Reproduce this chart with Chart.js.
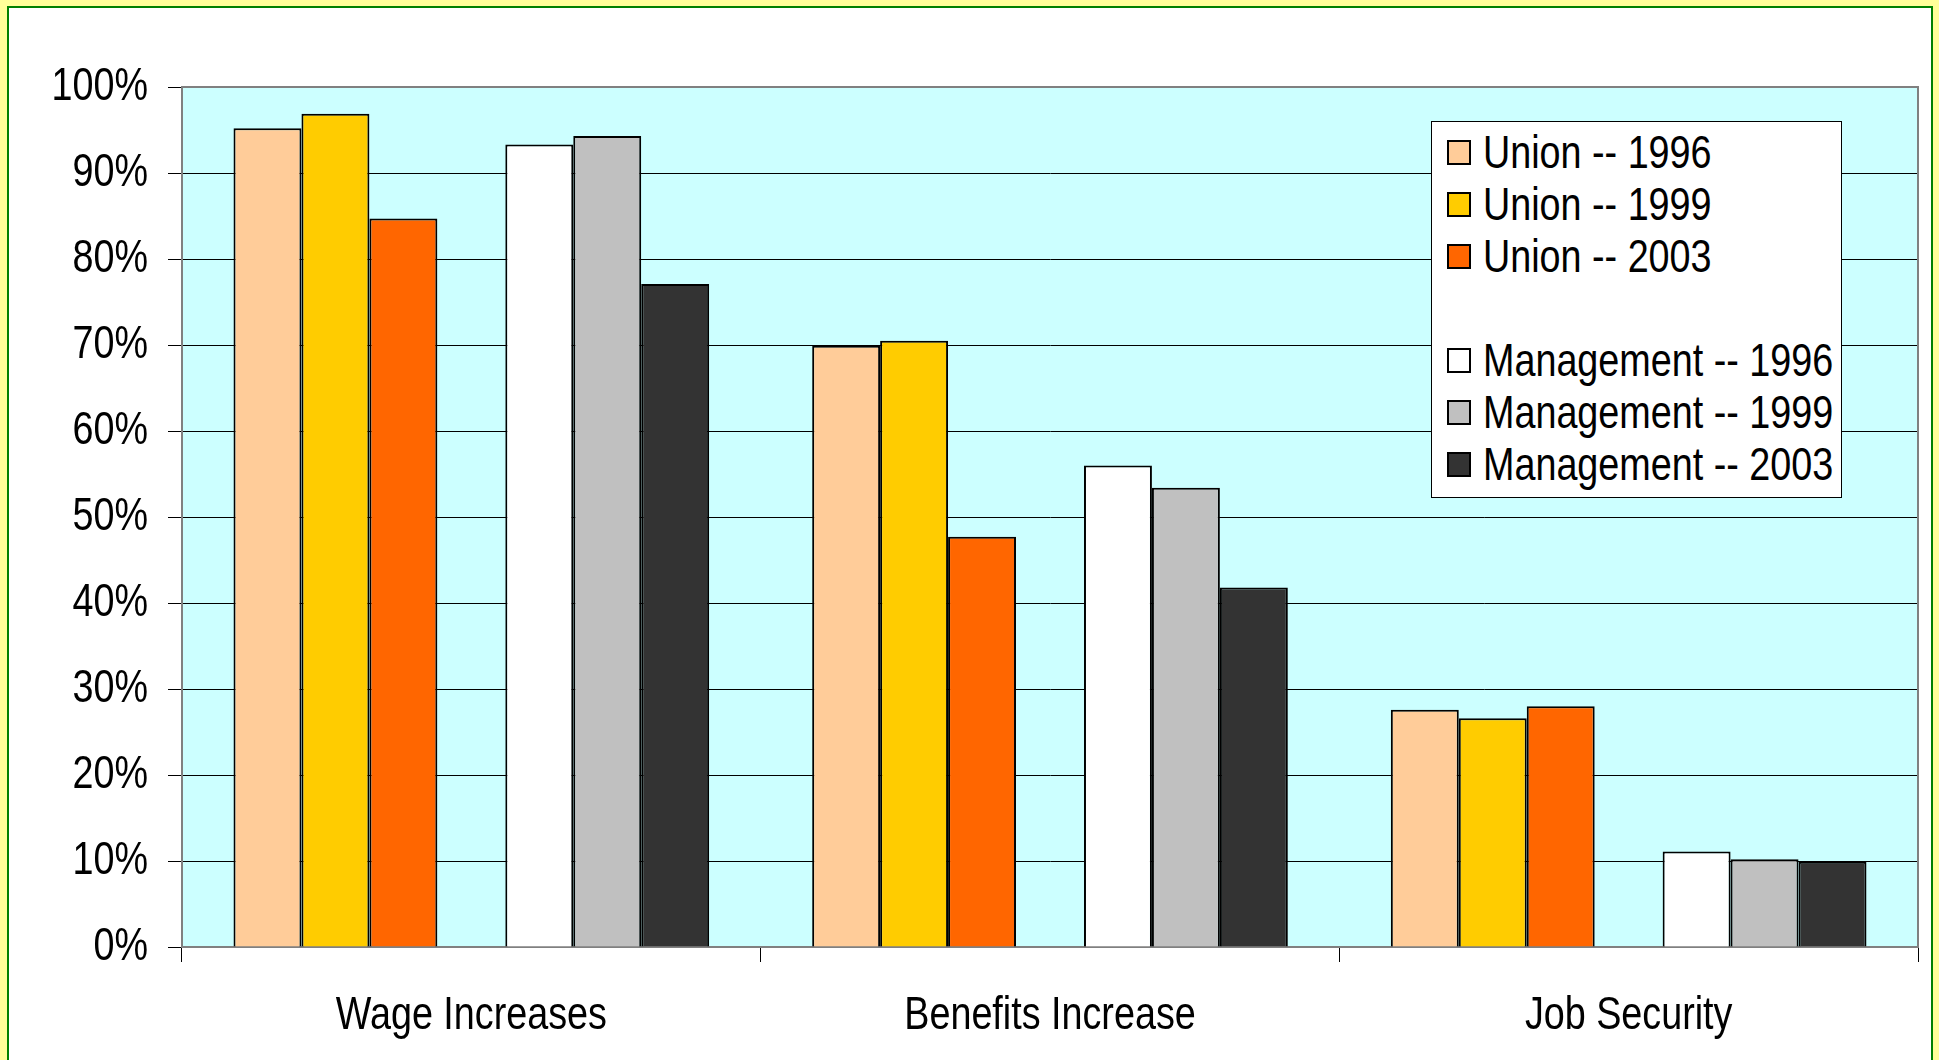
<!DOCTYPE html>
<html>
<head>
<meta charset="utf-8">
<script src="https://cdn.jsdelivr.net/npm/chart.js@4.4.1/dist/chart.umd.min.js"></script>
<style>
  html, body { margin: 0; padding: 0; background: #FFFF99; width: 1939px; height: 1060px; overflow: hidden; }
  #frame { position: absolute; left: 7px; top: 6px; width: 1926px; height: 1100px; box-sizing: border-box;
           border: 2px solid #008000; background: #FFFFFF; }
  #chart { position: absolute; left: 0; top: 0; }
  #legend { position: absolute; left: 1431px; top: 121px; width: 411px; height: 377px; box-sizing: border-box;
            border: 1px solid #000; background: #FFFFFF; padding-top: 4px;
            font-family: 'Liberation Sans', Arial, sans-serif; font-size: 46px; color: #000; }
  .row { height: 52px; line-height: 52px; white-space: nowrap; position: relative; }
  .sw { position: absolute; left: 15px; top: 14px; width: 24px; height: 25px; box-sizing: border-box; border: 2px solid #000; }
  .lbl { position: absolute; left: 51px; top: 0; transform: scaleX(0.82); transform-origin: 0 50%; }
</style>
</head>
<body>
<div id="frame"></div>
<canvas id="chart" width="1939" height="1060"></canvas>
<div id="legend"></div>
<script>
const categories = ['Wage Increases', 'Benefits Increase', 'Job Security'];
const seriesLabels = ['Union -- 1996', 'Union -- 1999', 'Union -- 2003', '', 'Management -- 1996', 'Management -- 1999', 'Management -- 2003'];
const union1996 = [95.2, 69.9, 27.6];
const union1999 = [96.9, 70.5, 26.6];
const union2003 = [84.7, 47.7, 28.0];
const spacer = [null, null, null];
const mgmt1996 = [93.3, 56.0, 11.1];
const mgmt1999 = [94.3, 53.4, 10.2];
const mgmt2003 = [77.1, 41.8, 9.9];
const seriesColors = ['#FFCC99', '#FFCC00', '#FF6600', 'rgba(0,0,0,0)', '#FFFFFF', '#C0C0C0', '#333333'];
const seriesValues = [union1996, union1999, union2003, spacer, mgmt1996, mgmt1999, mgmt2003];

const FONT = "'Liberation Sans', Arial, sans-serif";
const NARROW = 0.82;

const plotFrame = {
  id: 'plotFrame',
  beforeInit(chart) {
    const ctx = chart.ctx;
    const orig = ctx.fillText;
    ctx.fillText = function (t, x, y, mw) {
      const w = this.measureText(t).width * NARROW;
      return orig.call(this, t, x, y, mw !== undefined ? Math.min(mw, w) : w);
    };
  },
  beforeDraw(chart) {
    const a = chart.chartArea, ctx = chart.ctx;
    ctx.save();
    ctx.fillStyle = '#CCFFFF';
    ctx.fillRect(a.left, a.top, a.right - a.left, a.bottom - a.top);
    ctx.restore();
  },
  afterDraw(chart) {
    const a = chart.chartArea, ctx = chart.ctx;
    ctx.save();
    ctx.strokeStyle = '#808080';
    ctx.lineWidth = 2;
    ctx.beginPath();
    ctx.moveTo(a.left, a.top);
    ctx.lineTo(a.right, a.top);
    ctx.lineTo(a.right, a.bottom);
    ctx.stroke();
    ctx.restore();
  }
};

const datasets = seriesLabels.map((lab, i) => ({
  label: lab,
  data: seriesValues[i],
  backgroundColor: seriesColors[i],
  borderColor: lab ? '#000000' : 'rgba(0,0,0,0)',
  borderWidth: lab ? 2 : 0,
  categoryPercentage: 0.822,
  barPercentage: 1.0
}));

const chart = new Chart(document.getElementById('chart'), {
  type: 'bar',
  data: { labels: categories, datasets },
  plugins: [plotFrame],
  options: {
    responsive: false,
    animation: false,
    devicePixelRatio: 1,
    layout: { padding: { top: 87, right: 21, left: 0, bottom: 0 } },
    plugins: { legend: { display: false }, tooltip: { enabled: false } },
    scales: {
      x: {
        afterFit: (s) => { s.height = 113; },
        grid: { offset: true, drawOnChartArea: false, drawTicks: true, tickLength: 15, color: '#000000', lineWidth: 1 },
        border: { display: true, color: '#808080', width: 2 },
        ticks: { color: '#000', font: { family: FONT, size: 46 }, padding: 27, maxRotation: 0, autoSkip: false }
      },
      y: {
        min: 0, max: 100,
        afterFit: (s) => { s.width = 182; },
        grid: { color: '#000000', lineWidth: 1, tickLength: 14, drawTicks: true },
        border: { display: true, color: '#808080', width: 2 },
        ticks: { stepSize: 10, color: '#000', font: { family: FONT, size: 46 }, padding: 20,
                 callback: (v) => v + '%' }
      }
    }
  }
});

const legend = document.getElementById('legend');
chart.data.datasets.forEach((ds) => {
  const row = document.createElement('div');
  row.className = 'row';
  if (ds.label) {
    const sw = document.createElement('span');
    sw.className = 'sw';
    sw.style.background = ds.backgroundColor;
    const t = document.createElement('span');
    t.className = 'lbl';
    t.textContent = ds.label;
    row.appendChild(sw);
    row.appendChild(t);
  }
  legend.appendChild(row);
});
</script>
</body>
</html>
